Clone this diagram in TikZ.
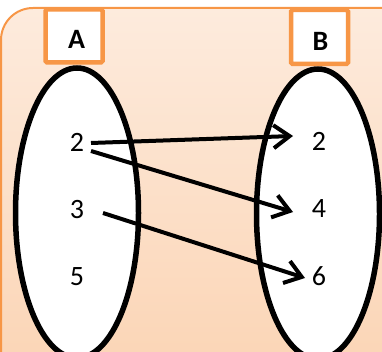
\documentclass[tikz,border=0pt]{standalone}
\usepackage{fontspec}
\setmainfont{Carlito}
\usetikzlibrary{arrows.meta,calc}
\definecolor{orng}{HTML}{F79646}
\definecolor{bgtop}{HTML}{FDEBDD}
\definecolor{bgbot}{HTML}{FBD3B2}
\tikzset{
  setell/.style={draw=black,line width=5.5pt,fill=white},
  hdrbox/.style={draw=orng,line width=4.5pt,fill=white,rounded corners=1.5pt},
  num/.style={font=\fontsize{28}{30}\selectfont,inner sep=0pt},
  hdr/.style={font={\bfseries\fontsize{28}{30}\selectfont},inner sep=0pt},
  arr/.style={line width=4pt,-{Straight Barb[length=16pt,width=23pt,line width=4pt]}}
}
\begin{document}
\begin{tikzpicture}[x=1pt,y=-1pt]
\useasboundingbox (0,0) rectangle (382,352);
\begin{scope}
\clip (0,0) rectangle (382,352);
\path[top color=bgtop,bottom color=bgbot,draw=orng,line width=2pt,rounded corners=32pt]
  (1,400) -- (1,8) -- (420,8) -- (420,400) -- cycle;
\end{scope}
% ellipses
\draw[setell] (77,213) ellipse [x radius=61.5,y radius=145];
\draw[setell] (318,214) ellipse [x radius=61.5,y radius=145];
% header boxes
\draw[hdrbox] (45.5,9.5) rectangle (102.5,62.5);
\draw[hdrbox] (291,10) rectangle (348,64);
\node[hdr] (hA) at (76.5,39) {A};
\node[hdr] (hB) at (320.5,41.5) {B};
% numbers
\node[num] (l2) at (77,142) {2};
\node[num] (l3) at (77,210) {3};
\node[num] (l5) at (77,277) {5};
\node[num] (r2) at (319,141) {2};
\node[num] (r4) at (319,209) {4};
\node[num] (r6) at (319,276) {6};
% arrows
\draw[arr] ($(l2)+(14,1)$) -- ($(r2)+(-26,-5)$);
\draw[arr] ($(l2)+(14,9)$) -- ($(r4)+(-26,3)$);
\draw[arr] ($(l3)+(26,3)$) -- ($(r6)+(-14,2)$);
\end{tikzpicture}
\end{document}
